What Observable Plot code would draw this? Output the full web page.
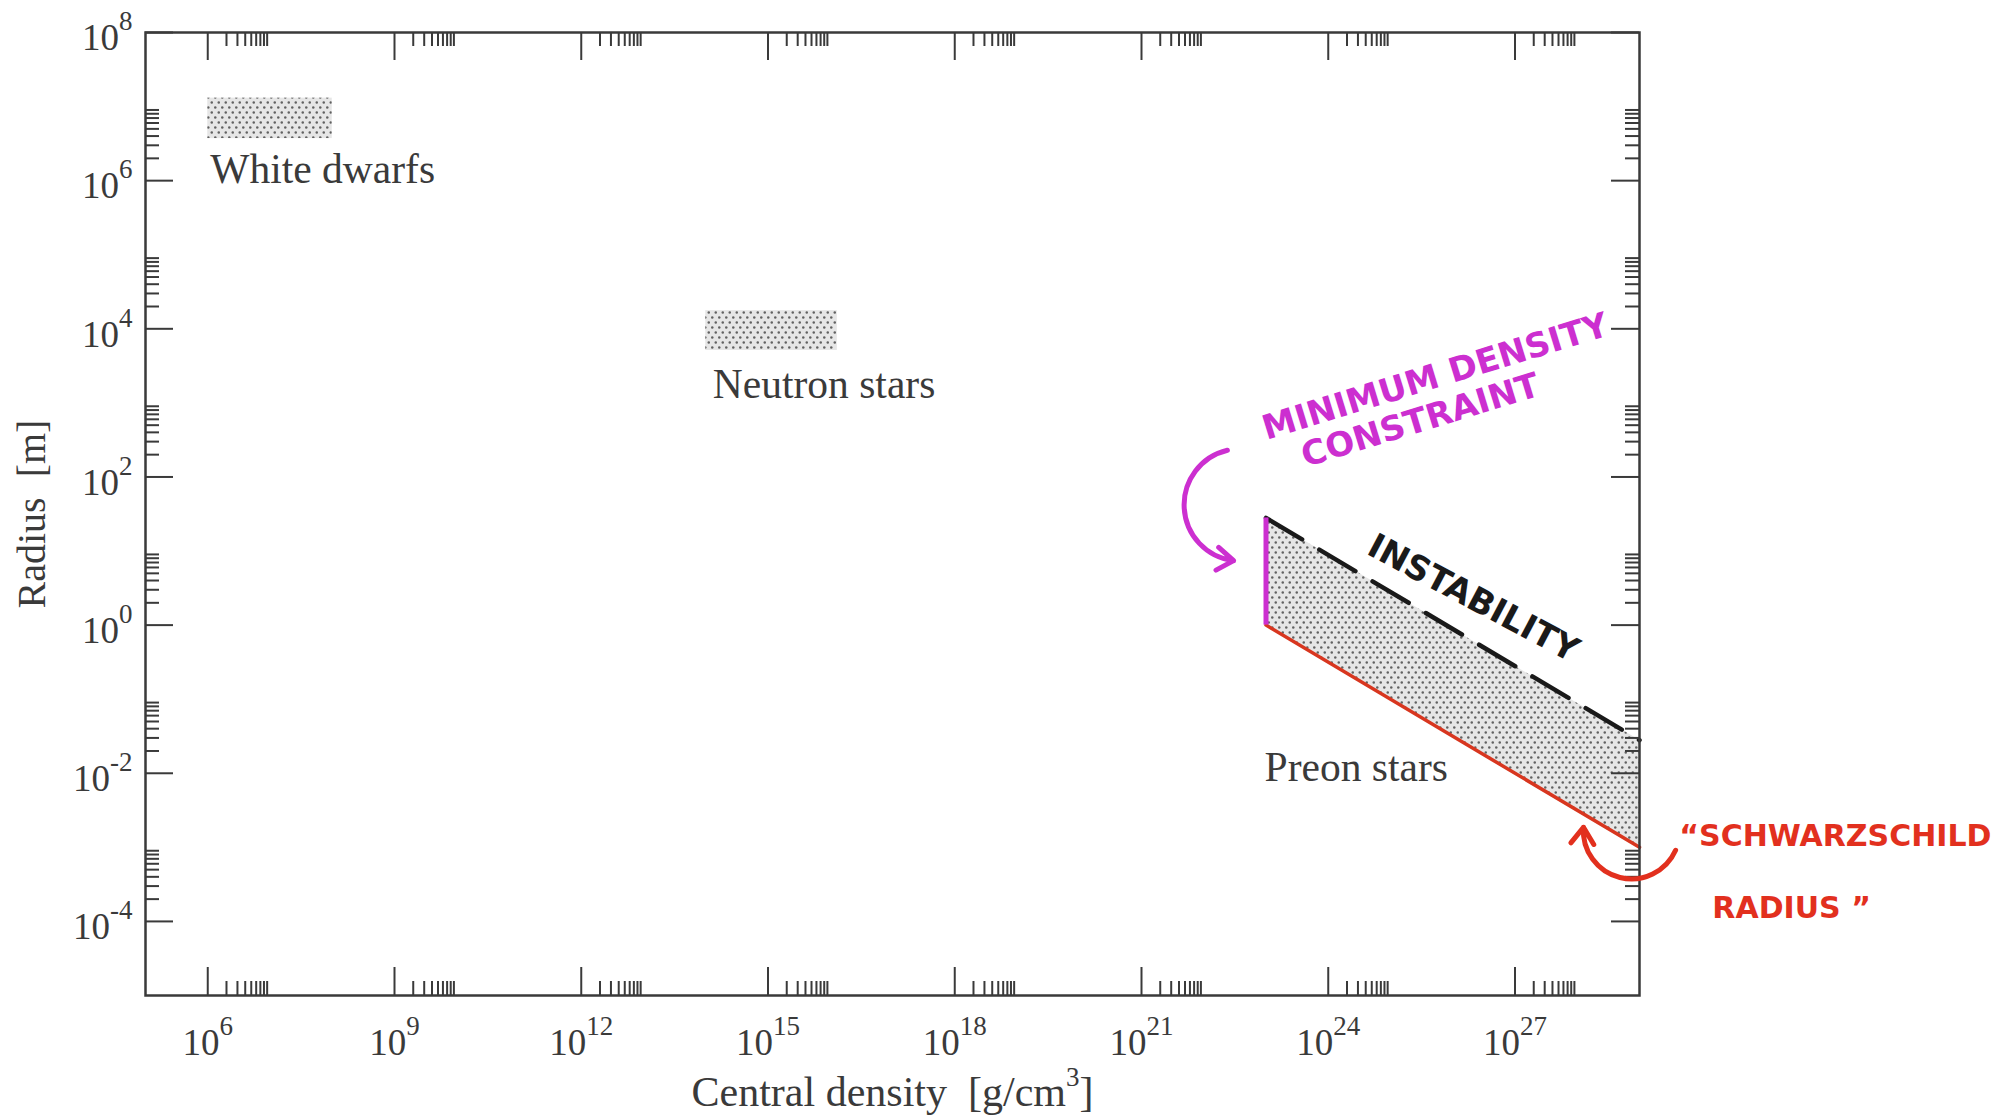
<!DOCTYPE html>
<html><head><meta charset="utf-8">
<script src="https://cdn.jsdelivr.net/npm/d3@7"></script>
<script src="https://cdn.jsdelivr.net/npm/@observablehq/plot@0.6"></script>
<style>body{margin:0;background:#fff;} svg{display:block;}</style>
</head><body><div id="chart"></div>
<script>
// ---------- data ----------
const xMajorExp = [6, 9, 12, 15, 18, 21, 24, 27];
const yMajorExp = [-4, -2, 0, 2, 4, 6, 8];
const minorMult = [2, 3, 4, 5, 6, 7, 8, 9];

const boxName = ["White dwarfs", "Neutron stars"];
const boxDensityLo = [1e6, 1e14];
const boxDensityHi = [1e8, 1.3e16];
const boxRadiusLo = [3.7e6, 5.1e3];
const boxRadiusHi = [1.3e7, 1.76e4];

const preonDensity = [1e23, 1e29];
const preonRadiusMin = [1, 1e-3];      // "Schwarzschild radius"
const preonRadiusMax = [28, 0.028];    // instability limit

const labelText = ["White dwarfs", "Neutron stars", "Preon stars"];
const labelDensity = [1.1e6, 1.3e14, 9.5e22];
const labelRadius = [9.3e5, 1.15e3, 7.8e-3];

const noteText = ["MINIMUM DENSITY", "CONSTRAINT", "INSTABILITY", "\u201CSCHWARZSCHILD", "RADIUS\u00a0\u201D"];
const noteDensity = [10 ** 25.72, 10 ** 25.48, 10 ** 26.33, 10 ** 29.64, 10 ** 30.17];
const noteRadius = [10 ** 3.35, 10 ** 2.76, 10 ** 0.36, 10 ** -2.855, 10 ** -3.83];
const noteAngle = [-17, -17, 28, 0, 0];
const noteInk = ["pink", "pink", "black", "red", "red"];

const arrowX1 = [10 ** 22.38, 10 ** 29.58];
const arrowY1 = [10 ** 2.36, 10 ** -3.04];
const arrowX2 = [10 ** 22.48, 10 ** 28.10];
const arrowY2 = [10 ** 0.87, 10 ** -2.73];
const arrowInk = ["pink", "red"];

const ink = {pink: "#cc2fd0", black: "#1a1a1a", red: "#e2301e"};
const axisInk = "#3a3a3a";
const textInk = "#3a3a3a";

// ---------- layout ----------
const W = 2000, H = 1119;
const mL = 145, mR = 361, mT = 32, mB = 124;
const frameW = W - mL - mR, frameH = H - mT - mB;
const majorLen = 28, minorLen = 14;

const xMajor = xMajorExp.map(e => 10 ** e);
const xMinor = xMajor.flatMap(v => minorMult.map(m => m * v));
const yMajor = yMajorExp.map(e => 10 ** e);
const yMinor = yMajor.flatMap(v => minorMult.map(m => m * v)).filter(v => v < 1e8);

const boxes = boxName.map((n, i) => ({n, x1: boxDensityLo[i], x2: boxDensityHi[i], y1: boxRadiusLo[i], y2: boxRadiusHi[i]}));
const preon = preonDensity.map((x, i) => ({x, lo: preonRadiusMin[i], hi: preonRadiusMax[i]}));
const notes = noteText.map((t, i) => ({t, x: noteDensity[i], y: noteRadius[i], r: noteAngle[i], c: ink[noteInk[i]]}));
const arrows = arrowX1.map((x, i) => ({x1: x, y1: arrowY1[i], x2: arrowX2[i], y2: arrowY2[i], c: ink[arrowInk[i]]}));

const tickStyle = {stroke: axisInk, strokeWidth: 2};
const hand = {fontFamily: "DejaVu Sans", fontWeight: "bold"};

const chart = Plot.plot({
  width: W, height: H,
  marginLeft: mL, marginRight: mR, marginTop: mT, marginBottom: mB,
  style: {fontFamily: "'Liberation Serif', 'Times New Roman', serif", background: "#fff", color: textInk},
  x: {type: "log", domain: [1e5, 1e29], axis: null},
  y: {type: "log", domain: [1e-5, 1e8], axis: null},
  marks: [
    // regions
    Plot.rect(boxes, {x1: "x1", x2: "x2", y1: "y1", y2: "y2", fill: "url(#stipple)"}),
    Plot.areaY(preon, {x: "x", y1: "lo", y2: "hi", fill: "url(#stipple)"}),
    Plot.line(preon, {x: "x", y: "lo", stroke: "#d8361f", strokeWidth: 3.5}),
    Plot.line(preon, {x: "x", y: "hi", stroke: ink.black, strokeWidth: 4.5, strokeDasharray: "42 20"}),
    Plot.ruleX(preon.slice(0, 1), {x: "x", y1: "lo", y2: "hi", stroke: ink.pink, strokeWidth: 5}),
    // frame and inward ticks
    Plot.frame({stroke: axisInk, strokeWidth: 2.5}),
    Plot.ruleX(xMajor, {x: d => d, insetTop: frameH - majorLen, ...tickStyle}),
    Plot.ruleX(xMajor, {x: d => d, insetBottom: frameH - majorLen, ...tickStyle}),
    Plot.ruleX(xMinor, {x: d => d, insetTop: frameH - minorLen, ...tickStyle}),
    Plot.ruleX(xMinor, {x: d => d, insetBottom: frameH - minorLen, ...tickStyle}),
    Plot.ruleY(yMajor, {y: d => d, insetRight: frameW - majorLen, ...tickStyle}),
    Plot.ruleY(yMajor, {y: d => d, insetLeft: frameW - majorLen, ...tickStyle}),
    Plot.ruleY(yMinor, {y: d => d, insetRight: frameW - minorLen, ...tickStyle}),
    Plot.ruleY(yMinor, {y: d => d, insetLeft: frameW - minorLen, ...tickStyle}),
    // tick labels
    Plot.text(xMajorExp, {x: e => 10 ** e, text: e => `10^{${e}}`, frameAnchor: "bottom", lineAnchor: "bottom", textAnchor: "middle", dy: 59, fontSize: 37, fill: textInk}),
    Plot.text(yMajorExp, {y: e => 10 ** e, text: e => `10^{${e}}`, frameAnchor: "left", lineAnchor: "middle", textAnchor: "end", dx: -13, dy: 6, fontSize: 37, fill: textInk}),
    // axis titles
    Plot.text(["Central density\u00a0 [g/cm^{3}]"], {frameAnchor: "bottom", lineAnchor: "bottom", textAnchor: "middle", dy: 110, fontSize: 42, fill: textInk}),
    Plot.text(["Radius\u00a0 [m]"], {frameAnchor: "left", lineAnchor: "middle", textAnchor: "middle", rotate: -90, dx: -113, fontSize: 40, fill: textInk}),
    // region labels
    Plot.text(labelText, {x: (d, i) => labelDensity[i], y: (d, i) => labelRadius[i], text: d => d, textAnchor: "start", lineAnchor: "bottom", fontSize: 41.5, fill: textInk}),
    // hand-drawn annotations
    Plot.text(notes.slice(0, 3), {x: "x", y: "y", text: "t", rotate: "r", fill: "c", textAnchor: "middle", lineAnchor: "middle", fontSize: 34, ...hand}),
    Plot.text(notes.slice(3), {x: "x", y: "y", text: "t", fill: "c", textAnchor: "start", lineAnchor: "middle", fontSize: 30, ...hand}),
    Plot.arrow(arrows.slice(0, 1), {x1: "x1", y1: "y1", x2: "x2", y2: "y2", stroke: "c", bend: -80, strokeWidth: 5, headLength: 6, headAngle: 70}),
    Plot.arrow(arrows.slice(1), {x1: "x1", y1: "y1", x2: "x2", y2: "y2", stroke: "c", bend: 80, strokeWidth: 5, headLength: 6, headAngle: 70})
  ]
});

// stipple pattern for the shaded regions
const ns = "http://www.w3.org/2000/svg";
d3.select(chart).insert("defs", ":first-child").html(
  `<pattern id="stipple" width="7" height="10" patternUnits="userSpaceOnUse">
     <rect width="7" height="10" fill="#e6e6e6"/>
     <circle cx="1.75" cy="2.5" r="1.25" fill="#606060"/>
     <circle cx="5.25" cy="7.5" r="1.25" fill="#606060"/>
   </pattern>`);

// superscripts: "base^{exp}rest"
chart.querySelectorAll("text").forEach(t => {
  const m = t.textContent.match(/^(.*?)\^\{(.*?)\}(.*)$/);
  if (!m) return;
  t.textContent = m[1];
  const sup = document.createElementNS(ns, "tspan");
  sup.setAttribute("dy", -20);
  sup.setAttribute("font-size", 27);
  sup.textContent = m[2];
  t.appendChild(sup);
  if (m[3]) {
    const rest = document.createElementNS(ns, "tspan");
    rest.setAttribute("dy", 20);
    rest.textContent = m[3];
    t.appendChild(rest);
  }
});

document.getElementById("chart").appendChild(chart);
</script>
</body></html>
